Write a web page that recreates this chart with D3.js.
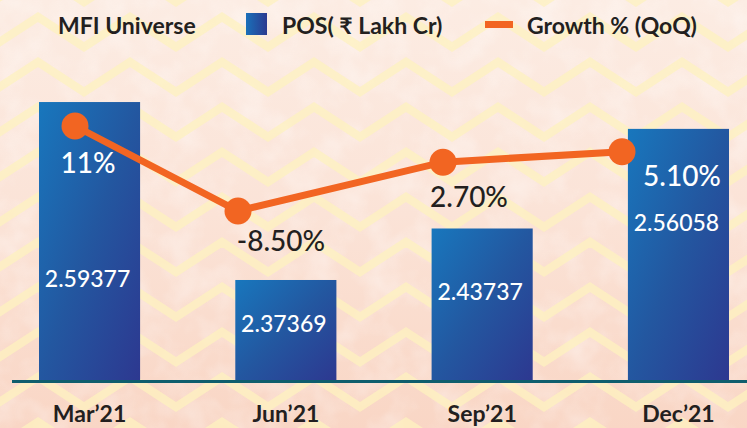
<!DOCTYPE html>
<html><head><meta charset="utf-8">
<script src="https://cdn.jsdelivr.net/npm/d3@7/dist/d3.min.js"></script>
<style>
html,body{margin:0;padding:0;background:#fbe3d6;}
svg{display:block;font-family:Lato,"Open Sans",sans-serif;}
</style></head>
<body>
<svg id="chart" width="747" height="428"></svg>
<script>
// ---- data ----
const categories = ["Mar\u201921", "Jun\u201921", "Sep\u201921", "Dec\u201921"];
const posValues = [2.59377, 2.37369, 2.43737, 2.56058];
const growthValues = [11, -8.5, 2.7, 5.1];
const growthLabels = ["11%", "-8.50%", "2.70%", "5.10%"];
const posLabels = ["2.59377", "2.37369", "2.43737", "2.56058"];
const legendTitle = "MFI Universe";
const legendItems = ["POS( \u20b9 Lakh Cr)", "Growth % (QoQ)"];

// ---- layout ----
const W = 747, H = 428;
const svg = d3.select("#chart");
const defs = svg.append("defs");

// background
const bg = defs.append("linearGradient").attr("id","bgGrad").attr("x1",0).attr("y1",0).attr("x2",0).attr("y2",1);
bg.append("stop").attr("offset",0).attr("stop-color","#fcece3");
bg.append("stop").attr("offset",0.5).attr("stop-color","#fbe3d7");
bg.append("stop").attr("offset",1).attr("stop-color","#f9d6c5");
svg.append("rect").attr("width",W).attr("height",H).attr("fill","url(#bgGrad)");

const f = defs.append("filter").attr("id","noise").attr("x",0).attr("y",0).attr("width","100%").attr("height","100%");
f.append("feTurbulence").attr("type","fractalNoise").attr("baseFrequency","0.03").attr("numOctaves",3).attr("seed",7);
f.append("feColorMatrix").attr("type","matrix")
  .attr("values","0 0 0 0 1  0 0 0 0 1  0 0 0 0 1  2.0 0 0 0 -0.8");
svg.append("rect").attr("width",W).attr("height",H).attr("filter","url(#noise)").attr("opacity",0.35);

// zigzag rows
const period = 92, amp = 30, rowGap = 45;
const zig = d3.line();
for (let r = -1; r < 11; r++) {
  const pts = [];
  const peakY = 17 + r*rowGap;
  for (let x = 38 - period; x <= W + period; x += period/2) {
    const k = Math.round((x - 38) / (period/2));
    pts.push([x, (k % 2 === 0) ? peakY : peakY + amp]);
  }
  svg.append("path").attr("d", zig(pts)).attr("fill","none")
    .attr("stroke","#fdf1bf").attr("stroke-width",8.5).attr("opacity",0.75)
    .attr("stroke-linejoin","miter");
}

// scales
const x = d3.scaleBand().domain(categories).range([39, 729]).paddingInner(0.485).paddingOuter(0);
const y = d3.scaleLinear().domain([2.25, 2.6]).range([380, 97]);
const yG = d3.scaleLinear().domain([-8.5, 11]).range([211, 126]);
const xL = d3.scaleOrdinal().domain(categories).range([75, 238, 443, 622]);

// bar gradient
const bgBar = defs.append("linearGradient").attr("id","barGrad").attr("x1",0).attr("y1",0).attr("x2",1).attr("y2",1);
bgBar.append("stop").attr("offset",0).attr("stop-color","#1877bd");
bgBar.append("stop").attr("offset",0.5).attr("stop-color","#2357a0");
bgBar.append("stop").attr("offset",1).attr("stop-color","#2d3890");

const data = categories.map((c,i)=>({c, v:posValues[i], g:growthValues[i], gl:growthLabels[i], pl:posLabels[i], i}));

svg.append("g").selectAll("rect").data(data).join("rect")
  .attr("x", d=>x(d.c)).attr("width", x.bandwidth())
  .attr("y", d=>y(d.v)).attr("height", d=>y.range()[0]-y(d.v))
  .attr("fill","url(#barGrad)");

// baseline axis
const axis = d3.axisBottom(x).tickSize(0).tickPadding(0);
const gAx = svg.append("g").attr("transform","translate(0,381)").call(axis);
gAx.select(".domain").remove();
svg.append("line").attr("x1",12).attr("x2",W).attr("y1",381.5).attr("y2",381.5)
  .attr("stroke","#0f5e6d").attr("stroke-width",3);
gAx.selectAll(".tick text").attr("y",41).attr("dy",0)
  .attr("font-family","Lato, sans-serif").attr("font-size",23).attr("font-weight",700)
  .attr("fill","#231f20");

// bar value labels
const posNudge = [46, 2, -4, -23];
svg.append("g").selectAll("text").data(data).join("text")
  .attr("x", d=>x(d.c)+x.bandwidth()/2 - 2)
  .attr("y", d=>(y(d.v)+y.range()[0])/2 + posNudge[d.i])
  .attr("text-anchor","middle").attr("font-size",23).attr("font-weight",500)
  .attr("fill","#ffffff").text(d=>d.pl);

// growth line
const line = d3.line().x(d=>xL(d.c)).y(d=>yG(d.g));
svg.append("path").datum(data).attr("d",line).attr("fill","none")
  .attr("stroke","#f26522").attr("stroke-width",7);
svg.append("g").selectAll("circle").data(data).join("circle")
  .attr("cx",d=>xL(d.c)).attr("cy",d=>yG(d.g)).attr("r",13.5).attr("fill","#f26522");

// growth labels
const gNudge = [[13,47],[43,40],[26,45],[60,34]];
const gColor = ["#ffffff","#231f20","#231f20","#ffffff"];
svg.append("g").selectAll("text").data(data).join("text")
  .attr("x", d=>xL(d.c)+gNudge[d.i][0]).attr("y", d=>yG(d.g)+gNudge[d.i][1])
  .attr("text-anchor","middle").attr("font-size",28).attr("font-weight",500)
  .attr("fill", d=>gColor[d.i]).text(d=>d.gl);

// legend
const lg = svg.append("g").attr("font-size",23).attr("font-weight",700).attr("fill","#231f20");
lg.append("text").attr("x",58).attr("y",34).text(legendTitle);
const lgGrad = defs.append("linearGradient").attr("id","lgGrad").attr("x1",0).attr("y1",0).attr("x2",1).attr("y2",0);
lgGrad.append("stop").attr("offset",0).attr("stop-color","#1a70b9");
lgGrad.append("stop").attr("offset",1).attr("stop-color","#2b3a90");
lg.append("rect").attr("x",246).attr("y",13).attr("width",21).attr("height",22).attr("fill","url(#lgGrad)");
lg.append("text").attr("x",282).attr("y",34).text(legendItems[0]);
lg.append("rect").attr("x",485).attr("y",21).attr("width",28).attr("height",7).attr("fill","#f26522");
lg.append("text").attr("x",527).attr("y",34).text(legendItems[1]);
</script>
</body></html>
